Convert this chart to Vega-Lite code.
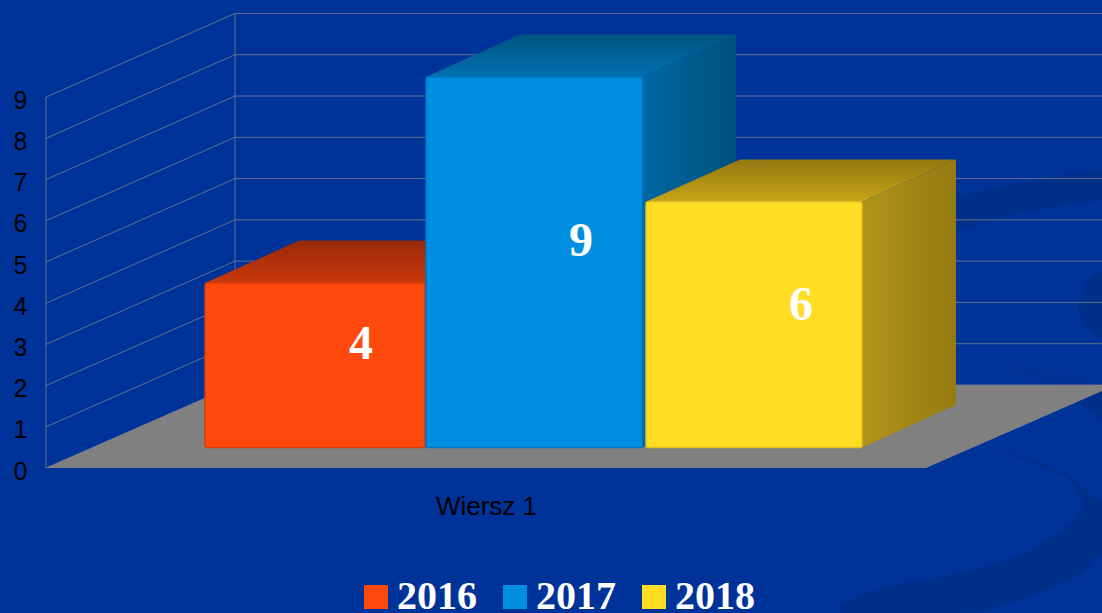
{
"$schema":"https://vega.github.io/schema/vega-lite/v6.json",
"width":1102,"height":613,"padding":0,"autosize":"none",
"background":"#003399",
"config":{"view":{"stroke":null}},
"datasets":{
"swoosh":[
{"s":"a","x":0.902,"lo":-3.519,"hi":-3.277},{"s":"a","x":0.97,"lo":-3.519,"hi":-2.816},{"s":"a","x":1.016,"lo":-3.519,"hi":-2.646},{"s":"a","x":1.042,"lo":-3.519,"hi":-2.524},{"s":"a","x":1.092,"lo":-3.301,"hi":-2.233},{"s":"a","x":1.149,"lo":-2.84,"hi":-1.578},{"s":"a","x":1.175,"lo":-2.597,"hi":-1.092},{"s":"a","x":1.178,"lo":-2.549,"hi":-0.85},
{"s":"b","x":1.178,"lo":-2.549,"hi":-0.485},{"s":"b","x":1.188,"lo":-2.282,"hi":-0.655},{"s":"b","x":1.2,"lo":-2.063,"hi":-0.85},
{"s":"c","x":1.061,"lo":0.558,"hi":0.558},{"s":"c","x":1.13,"lo":0.049,"hi":0.121},{"s":"c","x":1.164,"lo":-0.316,"hi":-0.218},{"s":"c","x":1.178,"lo":-0.85,"hi":-0.485},
{"s":"d","x":1.035,"lo":5.777,"hi":6.626},{"s":"d","x":1.11,"lo":6.189,"hi":6.917},{"s":"d","x":1.1375,"lo":6.311,"hi":7.039},{"s":"d","x":1.2,"lo":6.505,"hi":7.233},
{"s":"e","x":1.172,"lo":4.005,"hi":4.005},{"s":"e","x":1.178,"lo":3.519,"hi":4.32},{"s":"e","x":1.183,"lo":3.398,"hi":4.49},{"s":"e","x":1.2,"lo":3.107,"hi":4.757},
{"s":"f","x":1.167,"lo":1.65,"hi":1.65},{"s":"f","x":1.2,"lo":1.165,"hi":1.869},
{"s":"g","x":1.084,"lo":2.549,"hi":2.549},{"s":"g","x":1.144,"lo":2.039,"hi":2.33},{"s":"g","x":1.186,"lo":2.015,"hi":2.184}
],
"floor":[{"x":0,"lo":0,"hi":0},{"x":0.2148,"lo":0,"hi":2.015},{"x":1,"lo":0,"hi":2.015},{"x":1.2,"lo":1.869,"hi":2.015}],
"grid":[
{"g":"v0","x":0,"y":0},{"g":"v0","x":0.2148,"y":2.015},{"g":"v0","x":1.2,"y":2.015},
{"g":"v1","x":0,"y":1},{"g":"v1","x":0.2148,"y":3.017},{"g":"v1","x":1.2,"y":3.017},
{"g":"v2","x":0,"y":2},{"g":"v2","x":0.2148,"y":4.019},{"g":"v2","x":1.2,"y":4.019},
{"g":"v3","x":0,"y":3},{"g":"v3","x":0.2148,"y":5.021},{"g":"v3","x":1.2,"y":5.021},
{"g":"v4","x":0,"y":4},{"g":"v4","x":0.2148,"y":6.023},{"g":"v4","x":1.2,"y":6.023},
{"g":"v5","x":0,"y":5},{"g":"v5","x":0.2148,"y":7.025},{"g":"v5","x":1.2,"y":7.025},
{"g":"v6","x":0,"y":6},{"g":"v6","x":0.2148,"y":8.027},{"g":"v6","x":1.2,"y":8.027},
{"g":"v7","x":0,"y":7},{"g":"v7","x":0.2148,"y":9.029},{"g":"v7","x":1.2,"y":9.029},
{"g":"v8","x":0,"y":8},{"g":"v8","x":0.2148,"y":10.031},{"g":"v8","x":1.2,"y":10.031},
{"g":"v9","x":0,"y":9},{"g":"v9","x":0.2148,"y":11.033},{"g":"v9","x":1.2,"y":11.033},
{"g":"front","x":0,"y":0},{"g":"front","x":0,"y":9},
{"g":"back","x":0.2148,"y":2.015},{"g":"back","x":0.2148,"y":11.033}
],
"faces":[
{"series":"2016","face":"top","x":0.1807,"lo":4.49,"hi":4.49},{"series":"2016","face":"top","x":0.2875,"lo":4.49,"hi":5.52},{"series":"2016","face":"top","x":0.4307,"lo":4.49,"hi":5.52},{"series":"2016","face":"top","x":0.5375,"lo":5.52,"hi":5.52},
{"series":"2016","face":"side","x":0.4307,"lo":0.5,"hi":4.49},{"series":"2016","face":"side","x":0.5375,"lo":1.53,"hi":5.52},
{"series":"2017","face":"top","x":0.4318,"lo":9.49,"hi":9.49},{"series":"2017","face":"top","x":0.5386,"lo":9.49,"hi":10.52},{"series":"2017","face":"top","x":0.6778,"lo":9.49,"hi":10.52},{"series":"2017","face":"top","x":0.7841,"lo":10.52,"hi":10.52},
{"series":"2017","face":"side","x":0.6778,"lo":0.5,"hi":9.49},{"series":"2017","face":"side","x":0.7841,"lo":1.53,"hi":10.52},
{"series":"2018","face":"top","x":0.6818,"lo":6.46,"hi":6.46},{"series":"2018","face":"top","x":0.7886,"lo":6.46,"hi":7.49},{"series":"2018","face":"top","x":0.9273,"lo":6.46,"hi":7.49},{"series":"2018","face":"top","x":1.0341,"lo":7.49,"hi":7.49},
{"series":"2018","face":"side","x":0.9273,"lo":0.5,"hi":6.46},{"series":"2018","face":"side","x":1.0341,"lo":1.53,"hi":7.49}
],
"bars":[
{"series":"2016","value":4,"x0":0.1807,"x1":0.4307,"base":0.5,"top":4.49,"lx":0.358,"ly":2.98},
{"series":"2017","value":9,"x0":0.4318,"x1":0.6778,"base":0.5,"top":9.49,"lx":0.608,"ly":5.48},
{"series":"2018","value":6,"x0":0.6818,"x1":0.9273,"base":0.5,"top":6.46,"lx":0.858,"ly":3.93}
]
},
"layer":[
{"data":{"name":"swoosh"},"transform":[{"filter":"datum.s!=='g'"}],
 "mark":{"type":"area","interpolate":"monotone","color":"#002f8a"},
 "encoding":{"detail":{"field":"s"},
  "x":{"field":"x","type":"quantitative","title":null,"scale":{"domain":[-0.05227,1.2],"nice":false,"zero":false},"axis":{"title":null,"values":[0.5],"labelExpr":"'Wiersz 1'","domain":false,"ticks":false,"tickSize":0,"grid":false,"labelPadding":-120,"labelBaseline":"top","labelFont":"Liberation Sans","labelFontSize":26,"labelColor":"#000000","labelFlush":false,"labelOverlap":false}},
  "y":{"field":"lo","type":"quantitative","title":null,"scale":{"domain":[-3.519,11.359],"nice":false,"zero":false},"axis":{"title":null,"values":[0,1,2,3,4,5,6,7,8,9],"domain":false,"ticks":false,"tickSize":0,"grid":false,"labelPadding":-27,"labelAlign":"right","labelOffset":3,"labelFont":"Liberation Sans","labelFontSize":25,"labelColor":"#000000","labelOverlap":false,"labelFlush":false}},
  "y2":{"field":"hi"}}},
{"data":{"name":"swoosh"},"transform":[{"filter":"datum.s==='g'"}],
 "mark":{"type":"area","interpolate":"monotone","color":"#003193"},
 "encoding":{"x":{"field":"x","type":"quantitative","title":null},"y":{"field":"lo","type":"quantitative","title":null},"y2":{"field":"hi"}}},
{"data":{"name":"floor"},
 "mark":{"type":"area","color":"#808080"},
 "encoding":{"x":{"field":"x","type":"quantitative","title":null},"y":{"field":"lo","type":"quantitative","title":null},"y2":{"field":"hi"}}},
{"data":{"name":"grid"},
 "mark":{"type":"line","color":"#80858f","strokeWidth":1,"opacity":0.75},
 "encoding":{"detail":{"field":"g"},"x":{"field":"x","type":"quantitative","title":null},"y":{"field":"y","type":"quantitative","title":null}}},
{"data":{"name":"faces"},"transform":[{"filter":"datum.series==='2016'&&datum.face==='top'"}],
 "mark":{"type":"area","fill":{"gradient":"linear","x1":0,"y1":0,"x2":0,"y2":1,"stops":[{"offset":0,"color":"#982a08"},{"offset":1,"color":"#ca380a"}]}},
 "encoding":{"x":{"field":"x","type":"quantitative","title":null},"y":{"field":"lo","type":"quantitative","title":null},"y2":{"field":"hi"}}},
{"data":{"name":"faces"},"transform":[{"filter":"datum.series==='2016'&&datum.face==='side'"}],
 "mark":{"type":"area","fill":"#b03208"},
 "encoding":{"x":{"field":"x","type":"quantitative","title":null},"y":{"field":"lo","type":"quantitative","title":null},"y2":{"field":"hi"}}},
{"data":{"name":"bars"},"transform":[{"filter":"datum.series==='2016'"}],
 "mark":{"type":"rect","cornerRadius":2,"strokeWidth":1.5},
 "encoding":{"x":{"field":"x0","type":"quantitative","title":null},"x2":{"field":"x1"},"y":{"field":"base","type":"quantitative","title":null},"y2":{"field":"top"},
  "color":{"field":"series","type":"nominal","scale":{"domain":["2016","2017","2018"],"range":["#ff480c","#008ee0","#ffdd22"]},
   "legend":{"title":null,"orient":"none","legendX":356,"legendY":577,"direction":"horizontal","symbolType":"square","symbolSize":576,"symbolStrokeWidth":0,"labelFont":"Liberation Serif","labelFontWeight":"bold","labelFontSize":40,"labelColor":"#ffffff","labelOffset":1,"columnPadding":18,"labelLimit":200,"padding":0}},
  "stroke":{"field":"series","type":"nominal","scale":{"domain":["2016","2017","2018"],"range":["#d83c0c","#0074c0","#e0c020"]},"legend":null}}},
{"data":{"name":"faces"},"transform":[{"filter":"datum.series==='2017'&&datum.face==='top'"}],
 "mark":{"type":"area","fill":{"gradient":"linear","x1":0,"y1":0,"x2":0,"y2":1,"stops":[{"offset":0,"color":"#00557f"},{"offset":1,"color":"#0070b2"}]}},
 "encoding":{"x":{"field":"x","type":"quantitative","title":null},"y":{"field":"lo","type":"quantitative","title":null},"y2":{"field":"hi"}}},
{"data":{"name":"faces"},"transform":[{"filter":"datum.series==='2017'&&datum.face==='side'"}],
 "mark":{"type":"area","fill":{"gradient":"linear","x1":0,"y1":0,"x2":1,"y2":0,"stops":[{"offset":0,"color":"#0068a4"},{"offset":1,"color":"#00507c"}]}},
 "encoding":{"x":{"field":"x","type":"quantitative","title":null},"y":{"field":"lo","type":"quantitative","title":null},"y2":{"field":"hi"}}},
{"data":{"name":"bars"},"transform":[{"filter":"datum.series==='2017'"}],
 "mark":{"type":"rect","cornerRadius":2,"strokeWidth":1.5},
 "encoding":{"x":{"field":"x0","type":"quantitative","title":null},"x2":{"field":"x1"},"y":{"field":"base","type":"quantitative","title":null},"y2":{"field":"top"},
  "color":{"field":"series","type":"nominal"},"stroke":{"field":"series","type":"nominal","legend":null}}},
{"data":{"name":"faces"},"transform":[{"filter":"datum.series==='2018'&&datum.face==='top'"}],
 "mark":{"type":"area","fill":{"gradient":"linear","x1":0,"y1":0,"x2":0,"y2":1,"stops":[{"offset":0,"color":"#937810"},{"offset":1,"color":"#c8a416"}]}},
 "encoding":{"x":{"field":"x","type":"quantitative","title":null},"y":{"field":"lo","type":"quantitative","title":null},"y2":{"field":"hi"}}},
{"data":{"name":"faces"},"transform":[{"filter":"datum.series==='2018'&&datum.face==='side'"}],
 "mark":{"type":"area","fill":{"gradient":"linear","x1":0,"y1":0,"x2":1,"y2":0,"stops":[{"offset":0,"color":"#b2941a"},{"offset":1,"color":"#947a10"}]}},
 "encoding":{"x":{"field":"x","type":"quantitative","title":null},"y":{"field":"lo","type":"quantitative","title":null},"y2":{"field":"hi"}}},
{"data":{"name":"bars"},"transform":[{"filter":"datum.series==='2018'"}],
 "mark":{"type":"rect","cornerRadius":2,"strokeWidth":1.5},
 "encoding":{"x":{"field":"x0","type":"quantitative","title":null},"x2":{"field":"x1"},"y":{"field":"base","type":"quantitative","title":null},"y2":{"field":"top"},
  "color":{"field":"series","type":"nominal"},"stroke":{"field":"series","type":"nominal","legend":null}}},
{"data":{"name":"bars"},
 "mark":{"type":"text","font":"Liberation Serif","fontWeight":"bold","fontSize":48,"color":"#ffffff","baseline":"middle","align":"center"},
 "encoding":{"x":{"field":"lx","type":"quantitative","title":null},"y":{"field":"ly","type":"quantitative","title":null},"text":{"field":"value","type":"quantitative"}}}
]
}
